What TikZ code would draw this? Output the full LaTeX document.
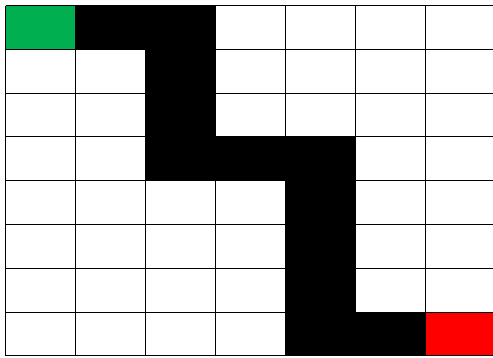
\documentclass[tikz,border=0pt]{standalone}
\definecolor{cellgreen}{RGB}{0,176,80}
\definecolor{cellred}{RGB}{255,0,0}
\tikzset{gridline/.style={draw=black,line width=1pt}}
\begin{document}
\begin{tikzpicture}[x=1pt,y=-1pt]
\useasboundingbox (0,0) rectangle (493,357);
\clip (0,0) rectangle (493,357);
\def\cw{70}
\def\ch{43.81}
\def\ox{5.5}
\def\oy{5.5}
% coloured cells
\fill[cellgreen] (\ox,\oy) rectangle ++(\cw,\ch);
\fill[cellred] (\ox+6*\cw,\oy+7*\ch) rectangle ++(\cw,\ch);
\foreach \c/\r in {1/0,2/0,2/1,2/2,2/3,3/3,4/3,4/4,4/5,4/6,4/7,5/7}{
  \fill[black] (\ox+\c*\cw,\oy+\r*\ch) rectangle ++(\cw,\ch);
}
% grid
\foreach \i in {0,...,7}{
  \draw[gridline] (\ox+\i*\cw,\oy) -- (\ox+\i*\cw,\oy+8*\ch);
}
\foreach \j in {0,...,8}{
  \draw[gridline] (\ox,\oy+\j*\ch) -- (\ox+7*\cw,\oy+\j*\ch);
}
\end{tikzpicture}
\end{document}
